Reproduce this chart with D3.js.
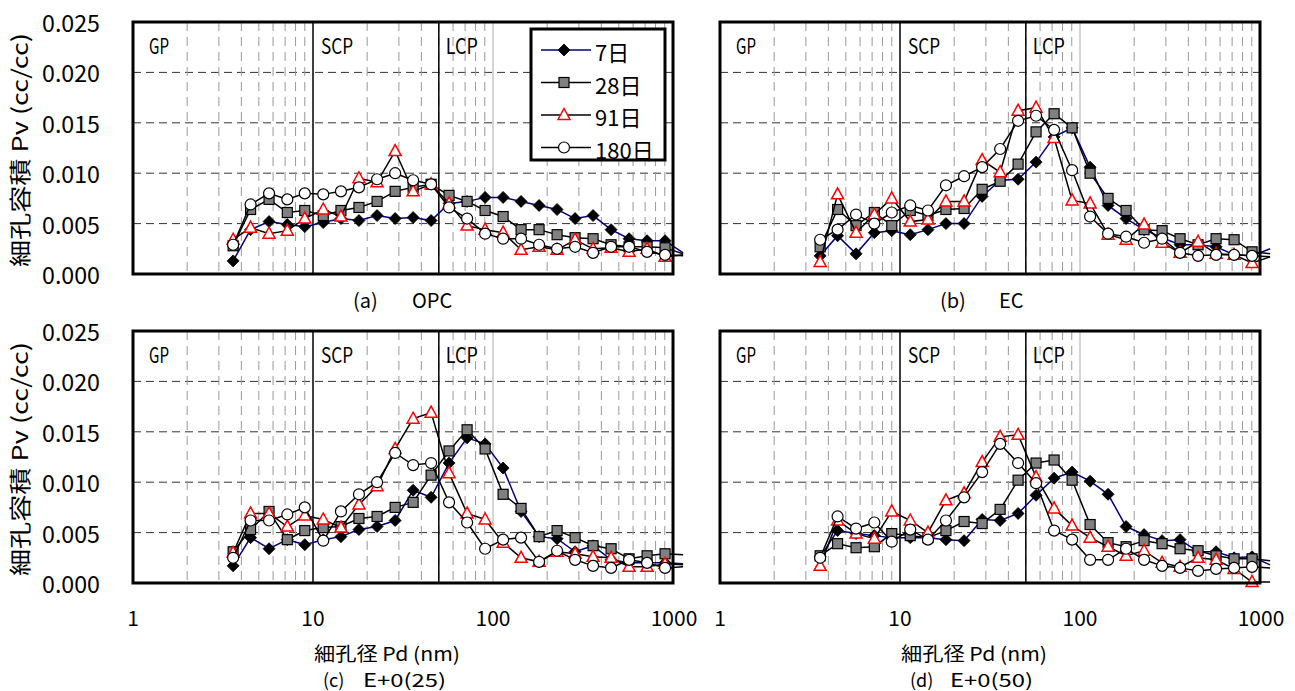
<!DOCTYPE html>
<html>
<head>
<meta charset="utf-8">
<script src="https://cdn.jsdelivr.net/npm/d3@7"></script>
<style>
  body { margin: 0; background: #fff; }
  text { font-family: "Noto Sans CJK JP", "Noto Sans", sans-serif; fill: #000; }
</style>
</head>
<body>
<div id="graph"></div>
<script>
// pore diameters (nm), same for every series
var diam = [3.6, 4.5, 5.7, 7.2, 9.0, 11.4, 14.3, 18.0, 22.7, 28.6, 36.0, 45.3, 57.0,
            71.8, 90.4, 113.8, 143.2, 180.3, 227.0, 285.8, 359.7, 452.9, 570.2, 717.8, 903.6, 1138];

var seriesKeys = ["7日", "28日", "91日", "180日"];
var yTicks = [0, 0.005, 0.010, 0.015, 0.020, 0.025];
var yTickLabels = ["0.000", "0.005", "0.010", "0.015", "0.020", "0.025"];
var xTicks = [1, 10, 100, 1000];
var xTickLabels = ["1", "10", "100", "1000"];
var zones = ["GP", "SCP", "LCP"];

// pore volume (cc/cc)
var opc7   = [0.0013, 0.0044, 0.0052, 0.0049, 0.0047, 0.0051, 0.0055, 0.0053, 0.0058, 0.0055, 0.0056, 0.0053, 0.0070, 0.0072, 0.0076, 0.0076, 0.0072, 0.0068, 0.0064, 0.0055, 0.0058, 0.0044, 0.0035, 0.0033, 0.0033, 0.0021];
var opc28  = [0.0028, 0.0064, 0.0074, 0.0061, 0.0063, 0.0058, 0.0063, 0.0066, 0.0072, 0.0082, 0.0086, 0.0089, 0.0078, 0.0072, 0.0063, 0.0057, 0.0044, 0.0044, 0.0039, 0.0036, 0.0035, 0.0029, 0.0027, 0.0027, 0.0026, 0.0020];
var opc91  = [0.0034, 0.0046, 0.0040, 0.0043, 0.0055, 0.0064, 0.0057, 0.0095, 0.0091, 0.0122, 0.0082, 0.0089, 0.0070, 0.0048, 0.0044, 0.0041, 0.0024, 0.0027, 0.0024, 0.0034, 0.0025, 0.0026, 0.0022, 0.0025, 0.0017, 0.0019];
var opc180 = [0.0029, 0.0069, 0.0080, 0.0074, 0.0080, 0.0079, 0.0082, 0.0086, 0.0094, 0.0100, 0.0093, 0.0089, 0.0066, 0.0055, 0.0040, 0.0035, 0.0035, 0.0029, 0.0025, 0.0027, 0.0021, 0.0027, 0.0027, 0.0022, 0.0019, 0.0018];

var ec7   = [0.0018, 0.0038, 0.0020, 0.0041, 0.0043, 0.0039, 0.0044, 0.0050, 0.0050, 0.0077, 0.0093, 0.0094, 0.0111, 0.0136, 0.0145, 0.0106, 0.0068, 0.0055, 0.0044, 0.0036, 0.0029, 0.0029, 0.0027, 0.0019, 0.0018, 0.0025];
var ec28  = [0.0027, 0.0064, 0.0048, 0.0061, 0.0048, 0.0063, 0.0058, 0.0064, 0.0065, 0.0084, 0.0092, 0.0109, 0.0141, 0.0159, 0.0145, 0.0100, 0.0075, 0.0063, 0.0044, 0.0043, 0.0035, 0.0029, 0.0035, 0.0034, 0.0022, 0.0020];
var ec91  = [0.0012, 0.0079, 0.0041, 0.0059, 0.0075, 0.0052, 0.0054, 0.0072, 0.0072, 0.0113, 0.0101, 0.0162, 0.0165, 0.0135, 0.0073, 0.0070, 0.0039, 0.0034, 0.0049, 0.0031, 0.0021, 0.0032, 0.0020, 0.0019, 0.0011, 0.0017];
var ec180 = [0.0034, 0.0044, 0.0059, 0.0050, 0.0061, 0.0068, 0.0063, 0.0088, 0.0097, 0.0106, 0.0124, 0.0152, 0.0157, 0.0143, 0.0103, 0.0057, 0.0040, 0.0037, 0.0031, 0.0035, 0.0021, 0.0018, 0.0019, 0.0019, 0.0018, 0.0017];

var e25_7   = [0.0017, 0.0045, 0.0034, 0.0043, 0.0038, 0.0043, 0.0046, 0.0053, 0.0056, 0.0062, 0.0092, 0.0085, 0.0119, 0.0144, 0.0138, 0.0114, 0.0071, 0.0046, 0.0044, 0.0031, 0.0037, 0.0023, 0.0020, 0.0020, 0.0020, 0.0019];
var e25_28  = [0.0031, 0.0053, 0.0071, 0.0043, 0.0052, 0.0055, 0.0056, 0.0064, 0.0066, 0.0075, 0.0080, 0.0107, 0.0131, 0.0152, 0.0133, 0.0088, 0.0074, 0.0046, 0.0052, 0.0045, 0.0037, 0.0034, 0.0024, 0.0027, 0.0029, 0.0028];
var e25_91  = [0.0030, 0.0069, 0.0069, 0.0056, 0.0067, 0.0063, 0.0055, 0.0078, 0.0096, 0.0133, 0.0163, 0.0169, 0.0109, 0.0069, 0.0063, 0.0040, 0.0025, 0.0021, 0.0031, 0.0029, 0.0026, 0.0025, 0.0016, 0.0016, 0.0019, 0.0018];
var e25_180 = [0.0025, 0.0062, 0.0062, 0.0068, 0.0075, 0.0042, 0.0071, 0.0088, 0.0100, 0.0129, 0.0117, 0.0119, 0.0080, 0.0060, 0.0034, 0.0043, 0.0045, 0.0021, 0.0032, 0.0023, 0.0017, 0.0015, 0.0023, 0.0020, 0.0015, 0.0016];

var e50_7   = [0.0026, 0.0052, 0.0049, 0.0047, 0.0045, 0.0045, 0.0045, 0.0043, 0.0042, 0.0063, 0.0062, 0.0069, 0.0087, 0.0104, 0.0110, 0.0101, 0.0088, 0.0056, 0.0048, 0.0042, 0.0043, 0.0031, 0.0031, 0.0025, 0.0026, 0.0018];
var e50_28  = [0.0027, 0.0039, 0.0035, 0.0036, 0.0049, 0.0047, 0.0045, 0.0052, 0.0061, 0.0059, 0.0073, 0.0102, 0.0119, 0.0122, 0.0102, 0.0058, 0.0040, 0.0036, 0.0042, 0.0039, 0.0034, 0.0032, 0.0027, 0.0024, 0.0024, 0.0022];
var e50_91  = [0.0017, 0.0062, 0.0049, 0.0044, 0.0071, 0.0062, 0.0050, 0.0082, 0.0089, 0.0120, 0.0145, 0.0147, 0.0105, 0.0074, 0.0057, 0.0045, 0.0036, 0.0027, 0.0032, 0.0020, 0.0016, 0.0025, 0.0023, 0.0014, 0.0001, 0.0001];
var e50_180 = [0.0025, 0.0066, 0.0054, 0.0060, 0.0041, 0.0053, 0.0043, 0.0062, 0.0085, 0.0110, 0.0138, 0.0119, 0.0099, 0.0052, 0.0043, 0.0023, 0.0023, 0.0034, 0.0023, 0.0017, 0.0015, 0.0012, 0.0014, 0.0015, 0.0016, 0.0015];

var panels = [
    { x: 133, y: 22,  series: [opc7, opc28, opc91, opc180], cap: ["(a)", "OPC"], bottom: false, left: true, legend: true },
    { x: 720, y: 22,  series: [ec7, ec28, ec91, ec180], cap: ["(b)", "EC"], bottom: false, left: false, legend: false },
    { x: 133, y: 331, series: [e25_7, e25_28, e25_91, e25_180], cap: ["(c)", "E+0(25)"], bottom: true, left: true, legend: false },
    { x: 720, y: 331, series: [e50_7, e50_28, e50_91, e50_180], cap: ["(d)", "E+0(50)"], bottom: true, left: false, legend: false }
];

var W = 540, H = 252;

var svg = d3.select("#graph").append("svg").attr("width", 1295).attr("height", 691);

var x = d3.scaleLog().domain([1, 1000]).range([0, W]);
var y = d3.scaleLinear().domain([0, 0.025]).range([H, 0]);

var lineColor = ["#000080", "#000", "#000", "#000"];

function marker(g, i, cx, cy) {
    if (i == 0) {
        g.append("path").attr("d", "M0,-6L6,0L0,6L-6,0Z")
            .attr("transform", "translate(" + cx + "," + cy + ")")
            .style("fill", "#000").style("stroke", "#000").style("stroke-width", 0.8);
    } else if (i == 1) {
        g.append("rect").attr("x", cx - 5).attr("y", cy - 5).attr("width", 10).attr("height", 10)
            .style("fill", "#808080").style("stroke", "#000").style("stroke-width", 1.2);
    } else if (i == 2) {
        g.append("path").attr("d", "M0,-6.5L6,4.5L-6,4.5Z")
            .attr("transform", "translate(" + cx + "," + cy + ")")
            .style("fill", "#fff").style("stroke", "#f00").style("stroke-width", 1.5);
    } else {
        g.append("circle").attr("cx", cx).attr("cy", cy).attr("r", 5.5)
            .style("fill", "#fff").style("stroke", "#000").style("stroke-width", 1.2);
    }
}

var line = d3.line()
    .x(function(d) { return x(d[0]); })
    .y(function(d) { return y(d[1]); });

panels.forEach(function(p, pi) {
    var g = svg.append("g").attr("transform", "translate(" + p.x + "," + p.y + ")");

    // horizontal grid
    g.selectAll(".hg").data(yTicks.slice(1, 5)).enter().append("line")
        .attr("x1", 0).attr("x2", W)
        .attr("y1", function(d) { return y(d); }).attr("y2", function(d) { return y(d); })
        .style("stroke", "#333").style("stroke-width", 1).style("stroke-dasharray", "8,5");

    // minor vertical grid
    var minors = [];
    [1, 10, 100].forEach(function(dec) {
        for (var m = 2; m <= 9; m++) minors.push(dec * m);
    });
    g.selectAll(".vg").data(minors).enter().append("line")
        .attr("x1", function(d) { return x(d); }).attr("x2", function(d) { return x(d); })
        .attr("y1", 0).attr("y2", H)
        .style("stroke", "#999").style("stroke-width", 1).style("stroke-dasharray", "9,6");

    g.append("line").attr("x1", x(100)).attr("x2", x(100)).attr("y1", 0).attr("y2", H)
        .style("stroke", "#aaa").style("stroke-width", 1);

    // zone borders
    [10, 50].forEach(function(d) {
        g.append("line").attr("x1", x(d)).attr("x2", x(d)).attr("y1", 0).attr("y2", H)
            .style("stroke", "#000").style("stroke-width", 1.5);
    });

    // zone labels
    var zx = [x(1) + 16, x(10) + 8, x(50) + 7];
    zones.forEach(function(z, i) {
        g.append("text").attr("x", zx[i]).attr("y", 32)
            .attr("textLength", z.length == 2 ? 20 : 32).attr("lengthAdjust", "spacingAndGlyphs")
            .style("font-size", "21px").text(z);
    });

    // series
    p.series.forEach(function(vals, si) {
        var pts = diam.map(function(d, k) { return [d, vals[k]]; });
        g.append("path").datum(pts).attr("d", line)
            .style("fill", "none").style("stroke", lineColor[si]).style("stroke-width", 1.5);
        pts.forEach(function(pt) {
            if (pt[0] <= 1000) marker(g, si, x(pt[0]), y(pt[1]));
        });
    });

    // frame
    g.append("rect").attr("x", 0).attr("y", 0).attr("width", W).attr("height", H)
        .style("fill", "none").style("stroke", "#000").style("stroke-width", 3);

    // y tick labels
    if (p.left) {
        g.selectAll(".yl").data(yTicks).enter().append("text")
            .attr("x", -33).attr("y", function(d) { return y(d); })
            .attr("text-anchor", "end").attr("dominant-baseline", "central")
            .attr("textLength", 58).attr("lengthAdjust", "spacingAndGlyphs")
            .style("font-size", "23px")
            .text(function(d, i) { return yTickLabels[i]; });
        g.append("text")
            .attr("transform", "translate(-115," + (H / 2 + 2) + ") rotate(-90)")
            .attr("text-anchor", "middle").attr("dominant-baseline", "central")
            .attr("textLength", 234).attr("lengthAdjust", "spacingAndGlyphs")
            .style("font-size", "22px").text("細孔容積 Pv (cc/cc)");
    }

    // x tick labels and titles
    if (p.bottom) {
        g.selectAll(".xl").data(xTicks).enter().append("text")
            .attr("x", function(d) { return x(d) + (d == 1000 ? 1 : 0); }).attr("y", H + 34)
            .attr("text-anchor", "middle").attr("dominant-baseline", "central")
            .style("font-size", "21px")
            .text(function(d, i) { return xTickLabels[i]; });
        g.append("text").attr("x", 181).attr("y", H + 69)
            .attr("dominant-baseline", "central")
            .attr("textLength", 146).attr("lengthAdjust", "spacingAndGlyphs")
            .style("font-size", "19px").text("細孔径 Pd (nm)");
    }

    // caption
    var cy = p.bottom ? H + 96 : H + 25;
    var cx = p.bottom ? 190 : 220;
    var gap = p.bottom ? 40 : 59;
    var cap = g.append("text").attr("y", cy).attr("dominant-baseline", "central")
        .style("font-size", p.bottom ? "18px" : "20px");
    cap.append("tspan").attr("x", cx).text(p.cap[0]);
    var t2 = cap.append("tspan").attr("x", cx + gap).text(p.cap[1]);
    if (p.bottom) t2.attr("textLength", 83).attr("lengthAdjust", "spacingAndGlyphs");

    // legend
    if (p.legend) {
        var lg = g.append("g").attr("transform", "translate(398,7)");
        lg.append("rect").attr("x", 0).attr("y", 0).attr("width", 134).attr("height", 131)
            .style("fill", "#fff").style("stroke", "#000").style("stroke-width", 3);
        seriesKeys.forEach(function(k, i) {
            var ly = 21 + i * 32.5;
            lg.append("line").attr("x1", 10).attr("x2", 60).attr("y1", ly).attr("y2", ly)
                .style("stroke", lineColor[i]).style("stroke-width", 1.5);
            marker(lg, i, 33, ly);
            lg.append("text").attr("x", 64).attr("y", ly + 1)
                .attr("dominant-baseline", "central")
                .style("font-size", "22px").text(k);
        });
    }
});
</script>
</body>
</html>
